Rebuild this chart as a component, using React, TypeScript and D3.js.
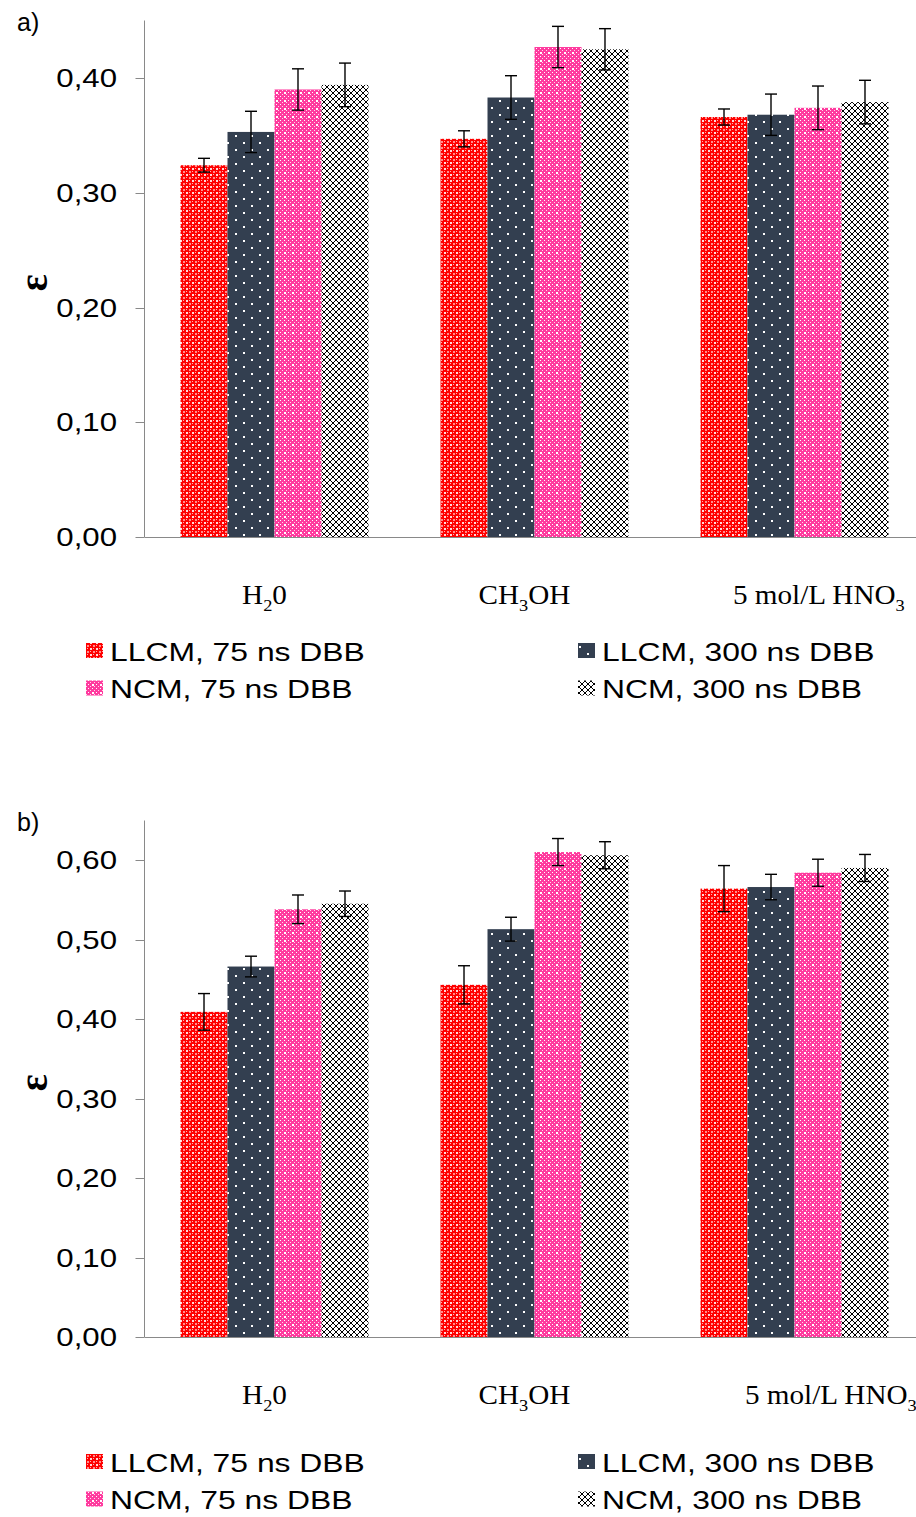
import React from "react";
import * as d3 from "d3";

const categories = ["H2O", "CH3OH", "HNO3"];
const categoryLabels = [
  [{ t: "H" }, { t: "2", sub: true }, { t: "0" }],
  [{ t: "CH" }, { t: "3", sub: true }, { t: "OH" }],
  [{ t: "5 mol/L HNO" }, { t: "3", sub: true }],
];
const seriesNames = ["LLCM, 75 ns DBB", "LLCM, 300 ns DBB", "NCM, 75 ns DBB", "NCM, 300 ns DBB"];

// chart a)
const aLLCM75 = [0.324, 0.347, 0.366];
const aLLCM300 = [0.353, 0.383, 0.368];
const aNCM75 = [0.39, 0.427, 0.374];
const aNCM300 = [0.394, 0.425, 0.379];
const aErrLLCM75 = [0.006, 0.007, 0.007];
const aErrLLCM300 = [0.018, 0.019, 0.018];
const aErrNCM75 = [0.018, 0.018, 0.019];
const aErrNCM300 = [0.019, 0.018, 0.019];
const aTicks = [0, 0.1, 0.2, 0.3, 0.4];

// chart b)
const bLLCM75 = [0.409, 0.443, 0.564];
const bLLCM300 = [0.466, 0.513, 0.566];
const bNCM75 = [0.538, 0.61, 0.584];
const bNCM300 = [0.545, 0.606, 0.59];
const bErrLLCM75 = [0.023, 0.024, 0.029];
const bErrLLCM300 = [0.013, 0.015, 0.016];
const bErrNCM75 = [0.018, 0.017, 0.017];
const bErrNCM300 = [0.016, 0.017, 0.017];
const bTicks = [0, 0.1, 0.2, 0.3, 0.4, 0.5, 0.6];

const patternIds = ["pLLCM75", "pLLCM300", "pNCM75", "pNCM300"];
const SX = 1.2;
const ARIAL = "Arial, Liberation Sans, sans-serif";
const TIMES = "Liberation Serif, Times New Roman, serif";
const fmt = (v: number) => d3.format(".2f")(v).replace(".", ",");

function Patterns() {
  return (
    <defs>
      <pattern id="pLLCM75" width={6} height={6} patternUnits="userSpaceOnUse">
        <rect width={6} height={6} fill="#ff0000" />
        <rect x={0} y={0} width={2} height={2} fill="#ffffff" opacity={0.85} />
        <rect x={3} y={3} width={2} height={2} fill="#ffffff" opacity={0.55} />
        <rect x={3} y={0} width={1} height={1} fill="#ffb0b0" />
        <rect x={0} y={3} width={1} height={1} fill="#ffb0b0" />
      </pattern>
      <pattern id="pLLCM300" width={16} height={14} patternUnits="userSpaceOnUse">
        <rect width={16} height={14} fill="#333f50" />
        <rect x={3} y={2} width={2} height={2} fill="#ffffff" />
        <rect x={11} y={9} width={2} height={2} fill="#ffffff" />
      </pattern>
      <pattern id="pNCM75" width={8} height={8} patternUnits="userSpaceOnUse">
        <rect width={8} height={8} fill="#ff3a9e" />
        <rect x={0} y={0} width={1} height={1} fill="#ffffff" />
        <rect x={2} y={2} width={1} height={1} fill="#ffd6ea" />
        <rect x={4} y={0} width={1} height={1} fill="#ffffff" />
        <rect x={6} y={2} width={1} height={1} fill="#ffd6ea" />
        <rect x={0} y={4} width={1} height={1} fill="#ffffff" />
        <rect x={4} y={4} width={2} height={2} fill="#ffffff" />
        <rect x={2} y={6} width={1} height={1} fill="#ffd6ea" />
        <rect x={6} y={6} width={1} height={1} fill="#ffd6ea" />
      </pattern>
      <pattern id="pNCM300" width={6} height={6} patternUnits="userSpaceOnUse">
        <rect width={6} height={6} fill="#ffffff" />
        <path d="M0,0L6,6M6,0L0,6" stroke="#000000" strokeWidth={1} />
      </pattern>
    </defs>
  );
}

function Chart({ top, letter, values, errors, yMax, ticks, lastLabelX, legendY }: any) {
  const axisTop = top;
  const axisBottom = top + 516.5;
  const x0 = 144.5;
  const pxPerUnit = 1147.5 * (yMax === 0.45 ? 1 : 0.6928);
  const y = d3.scaleLinear().domain([0, yMax]).range([axisBottom, axisBottom - pxPerUnit * yMax]);
  const x = d3.scaleBand().domain(categories).range([x0, x0 + 780]).paddingInner(0.277).paddingOuter(0.1385);
  const xs = d3.scaleBand().domain(seriesNames).range([0, x.bandwidth()]);
  const labelY = axisBottom + 67;
  return (
    <g>
      <text x={17} y={top + 10.5} fontFamily={ARIAL} fontSize={25}>{letter}</text>
      <text transform={`translate(47,${(axisTop + axisBottom) / 2 + 4}) rotate(-90)`} fontFamily={TIMES} fontWeight="bold" fontSize={40} textAnchor="middle">ε</text>
      {categories.map((c, ci) =>
        seriesNames.map((s, si) => {
          const v = values[si][ci];
          const bx = (x(c) as number) + (xs(s) as number);
          return (
            <rect key={c + s} x={bx} y={y(v)} width={xs.bandwidth()} height={axisBottom - y(v)} fill={`url(#${patternIds[si]})`} />
          );
        })
      )}
      {categories.map((c, ci) =>
        seriesNames.map((s, si) => {
          const v = values[si][ci];
          const e = errors[si][ci];
          const cx = (x(c) as number) + (xs(s) as number) + xs.bandwidth() / 2;
          return (
            <g key={"e" + c + s} stroke="#000" strokeWidth={1.4}>
              <line x1={cx} x2={cx} y1={y(v - e)} y2={y(v + e)} />
              <line x1={cx - 6} x2={cx + 6} y1={y(v - e)} y2={y(v - e)} />
              <line x1={cx - 6} x2={cx + 6} y1={y(v + e)} y2={y(v + e)} />
            </g>
          );
        })
      )}
      <line x1={x0} x2={x0} y1={axisTop} y2={axisBottom} stroke="#898989" strokeWidth={1} />
      <line x1={x0} x2={916} y1={axisBottom + 0.5} y2={axisBottom + 0.5} stroke="#898989" strokeWidth={1} />
      {ticks.map((t: number) => (
        <g key={t}>
          <line x1={x0 - 9} x2={x0} y1={Math.round(y(t)) + 0.5} y2={Math.round(y(t)) + 0.5} stroke="#898989" />
          <text transform={`translate(117,${y(t) + 9}) scale(${SX},1)`} textAnchor="end" fontFamily={ARIAL} fontSize={26}>{fmt(t)}</text>
        </g>
      ))}
      {categories.map((c, ci) => {
        const last = ci === categories.length - 1;
        const cx = last ? lastLabelX : (x(c) as number) + x.bandwidth() / 2 - 10;
        return (
          <text key={c} transform={`translate(${cx},${labelY}) scale(1.08,1)`} textAnchor={last ? "start" : "middle"} fontFamily={TIMES} fontSize={27}>
            {categoryLabels[ci].map((p: any, pi: number) => (
              <tspan key={pi} fontSize={p.sub ? 17 : 27} dy={p.sub ? 7 : pi > 0 && categoryLabels[ci][pi - 1].sub ? -7 : 0}>{p.t}</tspan>
            ))}
          </text>
        );
      })}
      {seriesNames.map((s, si) => {
        const col = si % 2;
        const row = Math.floor(si / 2);
        const lx = col === 0 ? 86 : 578;
        const ly = legendY + row * 37.5;
        return (
          <g key={"l" + s}>
            <rect x={lx} y={ly - 8} width={17} height={15} fill={`url(#${patternIds[si]})`} />
            <text transform={`translate(${lx + 24},${ly + 9.5}) scale(1.225,1)`} fontFamily={ARIAL} fontSize={26}>{s}</text>
          </g>
        );
      })}
    </g>
  );
}

export default function App() {
  return (
    <svg width={916} height={1517} style={{ position: "absolute", left: 0, top: 0, background: "#fff" }}>
      <Patterns />
      <rect width={916} height={1517} fill="#fff" />
      <Chart
        top={20.5}
        letter="a)"
        values={[aLLCM75, aLLCM300, aNCM75, aNCM300]}
        errors={[aErrLLCM75, aErrLLCM300, aErrNCM75, aErrNCM300]}
        yMax={0.45}
        ticks={aTicks}
        lastLabelX={733}
        legendY={651}
      />
      <Chart
        top={820.5}
        letter="b)"
        values={[bLLCM75, bLLCM300, bNCM75, bNCM300]}
        errors={[bErrLLCM75, bErrLLCM300, bErrNCM75, bErrNCM300]}
        yMax={0.65}
        ticks={bTicks}
        lastLabelX={745}
        legendY={1462}
      />
    </svg>
  );
}
